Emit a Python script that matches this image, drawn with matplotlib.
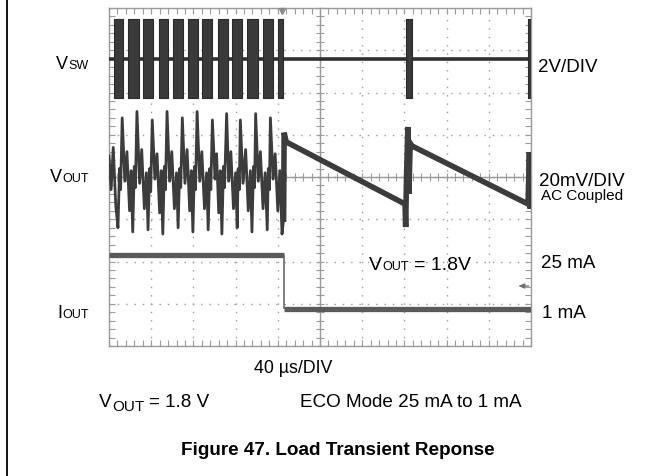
import numpy as np
import matplotlib
matplotlib.use("Agg")
import matplotlib.pyplot as plt
from matplotlib.lines import Line2D
from matplotlib.ticker import MultipleLocator

plt.rcParams['font.family'] = ['Liberation Sans', 'DejaVu Sans']

# switch node: burst windows (us) and swing (V) around the idle level
burst_start = [5, 18, 32, 47, 61, 75, 88, 103, 117, 131, 146, 160, 281.5, 397.5]
burst_end = [13, 28, 42, 56, 70, 84, 98, 113, 126, 141, 155, 165, 287, 400]
vsw_idle = 0.0
vsw_high = 1.9
vsw_low = -1.85

# output ripple while bursting (us, mV, AC coupled)
vout_burst_t = [0, 2, 4, 6.5, 8.5,
                10, 11, 12.5, 15, 17, 19.5, 21, 22.5,
                24, 25, 26.5, 29, 31, 33.5, 35.5, 37,
                38.5, 39.5, 41, 43.5, 45.5, 48, 49.5, 51,
                52.5, 53.5, 55, 57.5, 59.5, 62, 64, 65.5,
                67, 68, 69.5, 72, 74, 76.5, 78, 79.5,
                81, 82, 83.5, 86, 88, 90.5, 92.5, 94,
                95.5, 96.5, 98, 100.5, 102, 104, 105.5, 107,
                108.5, 109.5, 111.5, 113.5, 115.5, 118, 120, 121.5,
                122.5, 123.5, 124.5, 127, 129.5, 132, 134, 135.5,
                137, 138, 139, 141.5, 143.5, 146, 148, 150,
                151, 152, 153, 155.5, 157.5, 160, 162, 164, 165.5]
vout_burst_mv = [10, -6, 14, -14, -24,
                 4, -6, 28, -2, 12, -16, 3, -26,
                 5, -5, 31, -3, 13, -15, 2, -25,
                 4, -7, 27, -1, 11, -17, 3, -27,
                 5, -6, 31, -2, 12, -15, 2, -24,
                 4, -5, 28, -3, 13, -16, 3, -26,
                 5, -6, 31, -2, 12, -15, 2, -25,
                 4, -6, 27, -1, 11, -17, 3, -27,
                 5, -5, 30, -2, 12, -15, 2, -24,
                 4, -6, 27, -3, 13, -16, 3, -26,
                 5, -5, 30, -2, 12, -15, 2, -25,
                 4, -6, 28, -1, 11, -16, 3, -27, -20]

# output after the load step: two slow discharges with a refresh pulse
vout_decay_t = [165.5, 166, 168, 280.6, 281.2, 282, 283.3, 284.2, 285.5, 287.2,
                397.2, 398.5, 399.3, 400]
vout_decay_mv = [-20, 21, 16.6, -12.8, -23.7, 0, 23.7, -8, 16, 14.7,
                 -12.8, 11.8, -15, -5]

# load current steps (us, mA)
iout_t = [0, 166, 400]
iout_ma = [25, 1]

# screen scaling: time base and per-channel volts/div with trace position
T_DIV = 40
VSW_DIV, VSW_POS = 2.0, 6.79
VOUT_DIV, VOUT_POS = 20.0, 4.0
IOUT_DIV, IOUT_POS = 18.8, 0.823


def to_div(v, scale, pos):
    return pos + np.asarray(v, dtype=float) / scale


W, H = 671, 477
fig = plt.figure(figsize=(W / 100, H / 100), dpi=100)
fig.patch.set_facecolor('white')

rect = [109 / W, 1 - 347 / H, 422 / W, 338 / H]
grid_col = '#9a9a9a'

# graticule frame with inward ticks and dotted divisions
ax = fig.add_axes(rect)
ax.set_xlim(0, 10 * T_DIV)
ax.set_ylim(0, 8)
ax.xaxis.set_major_locator(MultipleLocator(T_DIV))
ax.xaxis.set_minor_locator(MultipleLocator(T_DIV / 5))
ax.yaxis.set_major_locator(MultipleLocator(1))
ax.yaxis.set_minor_locator(MultipleLocator(0.2))
ax.tick_params(which='both', direction='in', length=4, width=0.8, color=grid_col,
               top=True, right=True, labelbottom=False, labelleft=False)
ax.grid(which='major', color=grid_col, linestyle=(0, (1, 5)), linewidth=1.0)
for sp in ax.spines.values():
    sp.set_color(grid_col)
    sp.set_linewidth(1.0)

# centre crosshair axes, traces are drawn here on top
cx = fig.add_axes(rect, sharex=ax, sharey=ax)
cx.patch.set_visible(False)
cx.spines['left'].set_position(('data', 5 * T_DIV))
cx.spines['bottom'].set_position(('data', 4))
cx.spines['top'].set_visible(False)
cx.spines['right'].set_visible(False)
for side in ('left', 'bottom'):
    cx.spines[side].set_color(grid_col)
    cx.spines[side].set_linewidth(1.0)
cx.tick_params(which='both', direction='inout', length=6, width=0.8, color=grid_col,
               top=False, right=False, labelbottom=False, labelleft=False)

# V_SW
sw_lo = to_div(vsw_low, VSW_DIV, VSW_POS)
sw_hi = to_div(vsw_high, VSW_DIV, VSW_POS)
cx.axhline(to_div(vsw_idle, VSW_DIV, VSW_POS), color='#303030', lw=2.6, zorder=3)
cx.broken_barh(list(zip(burst_start, np.subtract(burst_end, burst_start))),
               (sw_lo, sw_hi - sw_lo), facecolor='#3a3a3a', edgecolor='#2a2a2a',
               linewidth=0.8, zorder=3)

# V_OUT
cx.plot(vout_burst_t, to_div(vout_burst_mv, VOUT_DIV, VOUT_POS),
        color='#3c3c3c', lw=2.0, zorder=3)
cx.plot(vout_decay_t, to_div(vout_decay_mv, VOUT_DIV, VOUT_POS),
        color='#3c3c3c', lw=4, solid_joinstyle='miter', zorder=3)

# I_OUT
i_lv = to_div(iout_ma, IOUT_DIV, IOUT_POS)
cx.hlines(i_lv, iout_t[:-1], iout_t[1:], color='#5a5a5a', lw=3.8, zorder=3)
cx.vlines(iout_t[1], i_lv.min(), i_lv.max(), color='#6a6a6a', lw=1.2, zorder=3)

# trigger and reference markers
cx.plot([iout_t[1] - 2], [7.94], marker='v', ms=5, color='#8a8a8a', clip_on=False, zorder=4)
cx.annotate('', xy=(388, 1.42), xytext=(398, 1.42),
            arrowprops=dict(arrowstyle='-|>,head_length=0.35,head_width=0.15',
                            color='#707070', lw=0.9, shrinkA=0, shrinkB=0))

# page rule on the left
fig.add_artist(Line2D([7 / W, 7 / W], [0, 1], transform=fig.transFigure,
                      color='black', lw=1.3))

renderer = fig.canvas.get_renderer()


def text_run(x, y, parts, ha='left', **kw):
    # parts: (text, size, drop in px, gap in px before)
    items = []
    for s, size, drop, gap in parts:
        t = fig.text(0, 0, s, fontsize=size, ha='left', va='baseline', **kw)
        w = t.get_window_extent(renderer).width
        items.append((t, drop, gap, w))
    total = sum(g + w for _, _, g, w in items)
    cur = x - total if ha == 'right' else (x - total / 2 if ha == 'center' else x)
    for t, drop, gap, w in items:
        cur += gap
        t.set_position((cur / W, 1 - (y + drop) / H))
        cur += w


# channel names
text_run(89, 69, [('V', 13, 0, 0), ('SW', 9, 0, 0.5)], ha='right')
text_run(89, 182, [('V', 13, 0, 0), ('OUT', 9, 0, 0.5)], ha='right')
text_run(89, 318, [('I', 13, 0, 0), ('OUT', 9, 0, 0.5)], ha='right')

# scale settings
text_run(538, 72, [('2V/DIV', 13.5, 0, 0)])
text_run(539, 186, [('20mV/DIV', 13.5, 0, 0)])
text_run(541, 200, [('AC Coupled', 11, 0, 0)])
text_run(541, 268, [('25 mA', 13.5, 0, 0)])
text_run(542, 318, [('1 mA', 13.5, 0, 0)])

text_run(369, 270, [('V', 14, 0, 0), ('OUT', 9, 0, 0.5), ('= 1.8V', 14, 0, 5)])

# captions below the screen
text_run(293, 373, [('40 µs/DIV', 12.8, 0, 0)], ha='center')
text_run(99, 407, [('V', 13.6, 0, 0), ('OUT', 11, 4, 0.5), ('= 1.8 V', 13.6, 0, 5)])
text_run(300, 407, [('ECO Mode 25 mA to 1 mA', 13.6, 0, 0)])
text_run(181, 455, [('Figure 47. Load Transient Reponse', 13.6, 0, 0)], fontweight='bold')

fig.savefig('out.png', dpi=100)
